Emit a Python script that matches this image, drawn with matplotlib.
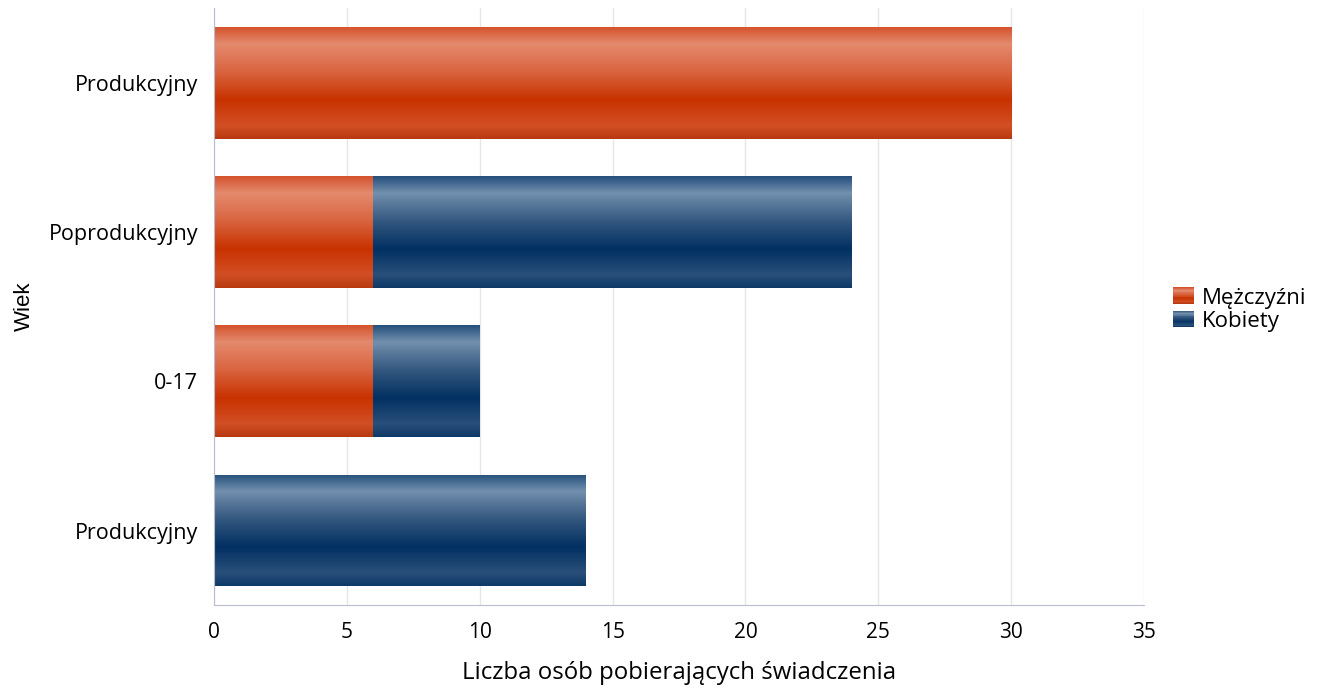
import numpy as np
import matplotlib
matplotlib.use('Agg')
import matplotlib.pyplot as plt
from matplotlib.colors import LinearSegmentedColormap
from matplotlib.legend_handler import HandlerBase
from matplotlib.patches import Rectangle

# data
categories = ['Produkcyjny', 'Poprodukcyjny', '0-17', 'Produkcyjny']
men = [30, 6, 6, 0]
women = [0, 18, 4, 14]
series_names = ['Mężczyźni', 'Kobiety']

plt.rcParams['font.family'] = ['Open Sans', 'DejaVu Sans']

# gradient stops (top -> bottom of bar)
stops = [0.0, 0.15, 0.4, 0.65, 0.88, 1.0]
orange_cols = ['#d4532d', '#e48a6e', '#d9643f', '#c83200', '#d24f25', '#b83a10']
blue_cols = ['#244f7c', '#7390ad', '#34587f', '#023062', '#2a4f7a', '#0e3a68']
cmap_orange = LinearSegmentedColormap.from_list('o', list(zip(stops, orange_cols)))
cmap_blue = LinearSegmentedColormap.from_list('b', list(zip(stops, blue_cols)))

fig, ax = plt.subplots(figsize=(13.18, 6.9), dpi=100)
fig.subplots_adjust(left=0.1624, right=0.868, top=0.988, bottom=0.123)

y = np.arange(len(categories))
grad = np.linspace(0, 1, 256).reshape(-1, 1)


def shade(bars, cmap):
    for p in bars:
        w = p.get_width()
        if w <= 0:
            continue
        x0, y0 = p.get_x(), p.get_y()
        h = p.get_height()
        p.set_facecolor('none')
        im = ax.imshow(grad, cmap=cmap, aspect='auto', interpolation='bilinear',
                       extent=(x0, x0 + w, y0 + h, y0), zorder=2)
        im.set_clip_path(p)


b1 = ax.barh(y, men, height=0.75, color='#c83200', zorder=2)
b2 = ax.barh(y, women, left=men, height=0.75, color='#023062', zorder=2)
shade(b1, cmap_orange)
shade(b2, cmap_blue)

ax.set_xlim(0, 35)
ax.set_ylim(len(categories) - 0.5, -0.5)
ax.set_yticks(y)
ax.set_yticklabels(categories, fontsize=15.5)
ax.set_xticks(np.arange(0, 36, 5))
ax.tick_params(axis='x', labelsize=15, length=0, pad=12)
ax.tick_params(axis='y', length=0, pad=11.5)
ax.grid(axis='x', color='#e6e6e6', linewidth=1, zorder=0)
ax.set_axisbelow(True)
for s in ['top', 'right']:
    ax.spines[s].set_visible(False)
for s in ['left', 'bottom']:
    ax.spines[s].set_color('#b8bccc')
ax.set_xlabel('Liczba osób pobierających świadczenia', fontsize=17.3, labelpad=13)
ax.set_ylabel('Wiek', fontsize=16, family=['Liberation Sans', 'DejaVu Sans'], labelpad=10)


class GradHandler(HandlerBase):
    def __init__(self, cmap):
        super().__init__()
        self.cmap = cmap

    def create_artists(self, legend, orig_handle, xdescent, ydescent, width, height, fontsize, trans):
        n = 20
        arts = []
        for i in range(n):
            c = self.cmap(i / (n - 1))
            r = Rectangle((-xdescent, -ydescent + height * (1 - (i + 1) / n)), width, height / n + 0.1,
                          facecolor=c, edgecolor='none', transform=trans)
            arts.append(r)
        return arts


h1 = Rectangle((0, 0), 1, 1)
h2 = Rectangle((0, 0), 1, 1)
ax.legend([h1, h2], series_names, handler_map={h1: GradHandler(cmap_orange), h2: GradHandler(cmap_blue)},
          loc='center left', bbox_to_anchor=(1.031, 0.495), frameon=False, fontsize=16,
          handlelength=0.95, handleheight=0.77, handletextpad=0.35, labelspacing=0.1,
          borderpad=0, borderaxespad=0)

fig.savefig('out.png', dpi=100)
